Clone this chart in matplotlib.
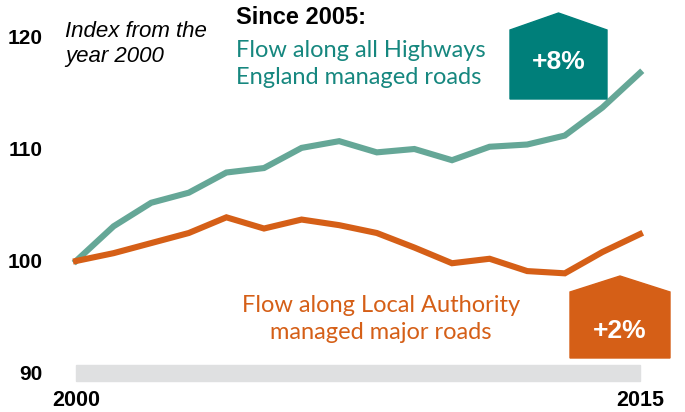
import matplotlib.pyplot as plt
from matplotlib.patches import Polygon

years = list(range(2000, 2016))
highways = [100, 103.1, 105.2, 106.1, 107.9, 108.3, 110.1, 110.7,
            109.7, 110.0, 109.0, 110.2, 110.4, 111.2, 113.7, 116.8]
local_auth = [100, 100.7, 101.6, 102.5, 103.9, 102.9, 103.7, 103.2,
              102.5, 101.2, 99.8, 100.2, 99.1, 98.9, 100.8, 102.4]
y_ticks = [90, 100, 110, 120]
x_ticks = [2000, 2015]

green_line = '#65a797'
teal_text = '#16877f'
teal_box = '#007f7a'
orange = '#d55f17'

fig = plt.figure(figsize=(6.85, 4.12), dpi=100)
ax = fig.add_axes([76 / 685, 39 / 412, 564 / 685, 336 / 412])
ax.set_xlim(2000, 2015)
ax.set_ylim(90, 120)
for s in ax.spines.values():
    s.set_visible(False)

# grey base bar
ax.axhspan(89.25, 90.7, color='#dfe0e1', zorder=0, clip_on=False)

ax.plot(years, highways, color=green_line, lw=4.4, solid_joinstyle='miter', clip_on=False)
ax.plot(years, local_auth, color=orange, lw=4.4, solid_joinstyle='miter', clip_on=False)

ax.set_yticks(y_ticks)
ax.set_yticklabels([str(v) for v in y_ticks], fontsize=15, fontweight='bold',
                   family='Liberation Sans')
ax.set_xticks(x_ticks)
ax.set_xticklabels([str(v) for v in x_ticks], fontsize=15.5, fontweight='bold',
                   family='Liberation Sans')
ax.tick_params(axis='y', length=0, pad=24)
ax.tick_params(axis='x', length=0, pad=12)

# texts
fig.text(65 / 685, 1 - 44 / 412, 'Index from the\nyear 2000', fontsize=16, style='italic',
         family='Liberation Sans', va='center', ha='left', linespacing=1.2)
fig.text(236 / 685, 1 - 18 / 412, 'Since 2005:', fontsize=17, fontweight='bold',
         family='Liberation Sans', va='center', ha='left')
fig.text(236 / 685, 1 - 64 / 412, 'Flow along all Highways\nEngland managed roads',
         fontsize=17, color=teal_text, family='Lato', va='center', ha='left',
         linespacing=1.3)
fig.text(381 / 685, 1 - 319 / 412, 'Flow along Local Authority\nmanaged major roads',
         fontsize=17, color=orange, family='Lato', va='center', ha='center',
         linespacing=1.3)


def badge(x0, x1, ytop, yshoulder, ybot, ytext, color, label):
    pts = [(x0, ybot), (x0, yshoulder), ((x0 + x1) / 2, ytop), (x1, yshoulder), (x1, ybot)]
    pts = [(x / 685, 1 - y / 412) for x, y in pts]
    fig.patches.append(Polygon(pts, closed=True, color=color, transform=fig.transFigure))
    fig.text((x0 + x1) / 2 / 685, 1 - ytext / 412, label,
             color='white', fontsize=19, fontweight='bold', family='Liberation Sans',
             ha='center', va='center')


badge(510, 607, 13, 30, 99, 62, teal_box, '+8%')
badge(570, 670, 276, 292, 358, 331, orange, '+2%')

fig.savefig('out.png', dpi=100)
